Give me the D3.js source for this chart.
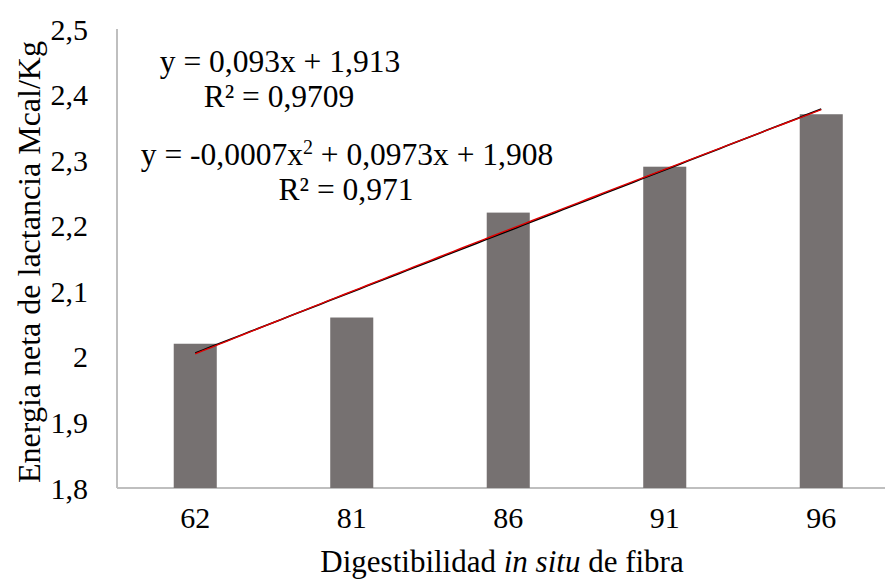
<!DOCTYPE html>
<html>
<head>
<meta charset="utf-8">
<script src="https://cdn.jsdelivr.net/npm/d3@7"></script>
<style>
  html, body { margin: 0; padding: 0; background: #fff; }
  svg { display: block; font-family: "Liberation Serif", "Times New Roman", serif; }
</style>
</head>
<body>
<svg id="chart" width="885" height="579"></svg>
<script>
// Digestibility categories and net lactation energy per category
const categories = ["62", "81", "86", "91", "96"];
const energy = [2.02, 2.06, 2.22, 2.29, 2.37];
const yTicks = [1.8, 1.9, 2.0, 2.1, 2.2, 2.3, 2.4, 2.5];

// Trend-line coefficients (x = category position 1..5)
const linearFit = { slope: 0.093, intercept: 1.913 };
const polyFit = { a: -0.0007, b: 0.0973, c: 1.908 };
const equationLines = [
  { text: "y = 0,093x + 1,913", cx: 280, cy: 61 },
  { text: "R² = 0,9709", cx: 279, cy: 96 },
  { text: "y = -0,0007x<sup>2</sup> + 0,0973x + 1,908", cx: 347, cy: 154 },
  { text: "R² = 0,971", cx: 346, cy: 188.5 }
];

const svg = d3.select("#chart");
const margin = { left: 117, top: 29, bottom: 488 };

const x = d3.scaleBand().domain(categories).range([margin.left, margin.left + 782.5]).paddingInner(0.725).paddingOuter(0.3625);
const y = d3.scaleLinear().domain([1.8, 2.5]).range([margin.bottom, margin.top]);

const fmt = v => (v === 2 ? "2" : d3.format(".1f")(v).replace(".", ","));

// Axes
svg.append("line").attr("x1", margin.left).attr("x2", 885)
  .attr("y1", y(1.8)).attr("y2", y(1.8)).attr("stroke", "#bfbfbf").attr("stroke-width", 2);
svg.append("line").attr("x1", margin.left).attr("x2", margin.left)
  .attr("y1", y(1.8)).attr("y2", y(2.5)).attr("stroke", "#bfbfbf").attr("stroke-width", 2);

svg.append("g").selectAll("text").data(yTicks).join("text")
  .attr("x", 88).attr("y", d => y(d)).attr("dy", "0.35em")
  .attr("text-anchor", "end").attr("font-size", 30).attr("fill", "#000")
  .text(fmt);

svg.append("g").selectAll("text").data(categories).join("text")
  .attr("x", d => x(d) + x.bandwidth() / 2).attr("y", 517).attr("dy", "0.35em")
  .attr("text-anchor", "middle").attr("font-size", 30).attr("fill", "#000")
  .text(d => d);

// Bars
svg.append("g").selectAll("rect").data(categories).join("rect")
  .attr("x", d => x(d)).attr("width", x.bandwidth())
  .attr("y", (d, i) => y(energy[i])).attr("height", (d, i) => y(1.8) - y(energy[i]))
  .attr("fill", "#767171");

// Trend lines over the category positions
const pos = d3.scaleLinear().domain([1, categories.length])
  .range([x(categories[0]) + x.bandwidth() / 2, x(categories[categories.length - 1]) + x.bandwidth() / 2]);
const steps = d3.range(1, 5.001, 0.05);
const line = d3.line().x(d => pos(d[0])).y(d => y(d[1]));
svg.append("path")
  .datum(steps.map(t => [t, linearFit.slope * t + linearFit.intercept]))
  .attr("d", line).attr("fill", "none").attr("stroke", "#000").attr("stroke-width", 1.6);
svg.append("path")
  .datum(steps.map(t => [t, polyFit.a * t * t + polyFit.b * t + polyFit.c]))
  .attr("d", line).attr("fill", "none").attr("stroke", "#e00000").attr("stroke-width", 1.4);

// Equation labels
equationLines.forEach(l => {
  const t = svg.append("text").attr("x", l.cx).attr("y", l.cy).attr("dy", "0.35em")
    .attr("text-anchor", "middle").attr("font-size", 31.5).attr("fill", "#000");
  const parts = l.text.split(/<sup>|<\/sup>/);
  parts.forEach((p, i) => {
    if (i % 2 === 1) {
      t.append("tspan").attr("font-size", 20).attr("dy", "-0.55em").text(p);
    } else if (i > 0) {
      t.append("tspan").attr("dy", "0.35em").text(p);
    } else {
      t.append("tspan").text(p);
    }
  });
});

// Axis titles
svg.append("text").attr("x", 502).attr("y", 561).attr("dy", "0.35em")
  .attr("text-anchor", "middle").attr("font-size", 31).attr("fill", "#000")
  .call(t => {
    t.append("tspan").text("Digestibilidad ");
    t.append("tspan").attr("font-style", "italic").text("in situ");
    t.append("tspan").text(" de fibra");
  });

svg.append("text").attr("transform", "translate(29,262) rotate(-90)").attr("dy", "0.35em")
  .attr("text-anchor", "middle").attr("font-size", 32).attr("fill", "#000")
  .text("Energia neta de lactancia Mcal/Kg");
</script>
</body>
</html>
